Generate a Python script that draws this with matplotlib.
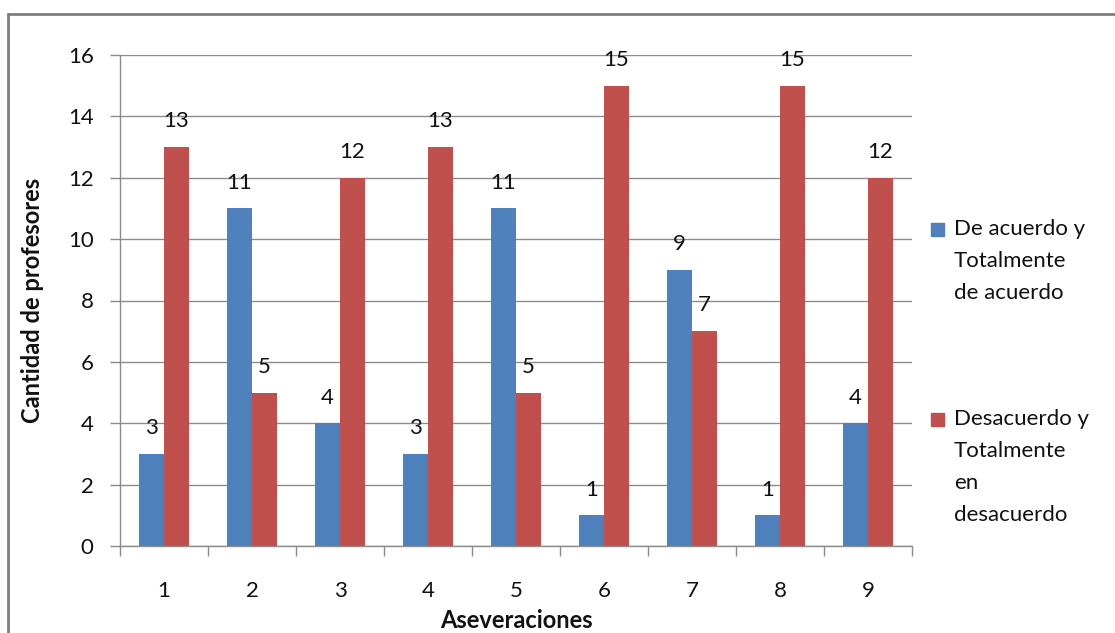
import matplotlib
matplotlib.use("Agg")
import matplotlib.pyplot as plt
from matplotlib.patches import Rectangle
import numpy as np

plt.rcParams['font.family'] = ['Lato', 'DejaVu Sans']

categories = ['1', '2', '3', '4', '5', '6', '7', '8', '9']
acuerdo = [3, 11, 4, 3, 11, 1, 9, 1, 4]
desacuerdo = [13, 5, 12, 13, 5, 15, 7, 15, 12]
series_names = ['De acuerdo y\nTotalmente\nde acuerdo',
                'Desacuerdo y\nTotalmente\nen\ndesacuerdo']
colors = ['#4F81BD', '#C0504D']
yticks = [0, 2, 4, 6, 8, 10, 12, 14, 16]

W, H = 1115, 633
FS = 16
fig = plt.figure(figsize=(W / 100, H / 100), dpi=100)
ax = fig.add_axes([120 / W, 1 - 546 / H, (912 - 120) / W, (546 - 55) / H])

x = np.arange(len(categories))
bw = 1 / 3.5
for vals, off, c in [(acuerdo, -bw / 2, colors[0]), (desacuerdo, bw / 2, colors[1])]:
    bars = ax.bar(x + off, vals, width=bw, color=c, zorder=3)
    for b, v in zip(bars, vals):
        ax.annotate(str(v), (b.get_x() + b.get_width() / 2, v), xytext=(0, 18.5),
                    textcoords='offset points', ha='center', va='center',
                    fontsize=FS, color='#111111')

ax.set_xlim(-0.5, len(categories) - 0.5)
ax.set_ylim(0, 16)
ax.set_yticks(yticks)
ax.set_yticklabels([str(t) for t in yticks])
ax.set_xticks(x)
ax.set_xticklabels(categories)
ax.set_xticks(np.arange(-0.5, len(categories)), minor=True)

grid_c = '#8C8C8C'
ax.grid(axis='y', color=grid_c, linewidth=1, zorder=0)
for s in ['top', 'right']:
    ax.spines[s].set_visible(False)
for s in ['left', 'bottom']:
    ax.spines[s].set_color(grid_c)
    ax.spines[s].set_linewidth(1)
ax.tick_params(axis='y', length=7, color=grid_c, width=1, pad=12, labelsize=FS, labelcolor='#111111')
ax.tick_params(axis='x', which='major', length=0, pad=25, labelsize=FS, labelcolor='#111111')
ax.tick_params(axis='x', which='minor', length=7, color=grid_c, width=1)

fig.text(516 / W, 1 - 620 / H, 'Aseveraciones', ha='center', va='center',
         fontsize=17, fontweight='bold', color='#111111')
fig.text(33 / W, 1 - 300 / H, 'Cantidad de profesores', ha='center', va='center',
         rotation=90, fontsize=17, fontweight='bold', color='#111111')

# legend
leg_y = [229, 419]
line_step = 32
for name, c, yy in zip(series_names, colors, leg_y):
    fig.patches.append(Rectangle((931 / W, 1 - (yy + 7) / H), 13 / W, 13 / H,
                                 transform=fig.transFigure, color=c))
    for i, line in enumerate(name.split('\n')):
        fig.text(954 / W, 1 - (yy + i * line_step) / H, line, ha='left', va='center',
                 fontsize=FS, color='#111111')

# outer border (partially cropped)
fig.patches.append(Rectangle((8 / W, -0.2), 1.5, 1.2 - 14 / H, transform=fig.transFigure,
                             fill=False, edgecolor='#7F7F7F', linewidth=2))

fig.savefig('out.png', dpi=100)
